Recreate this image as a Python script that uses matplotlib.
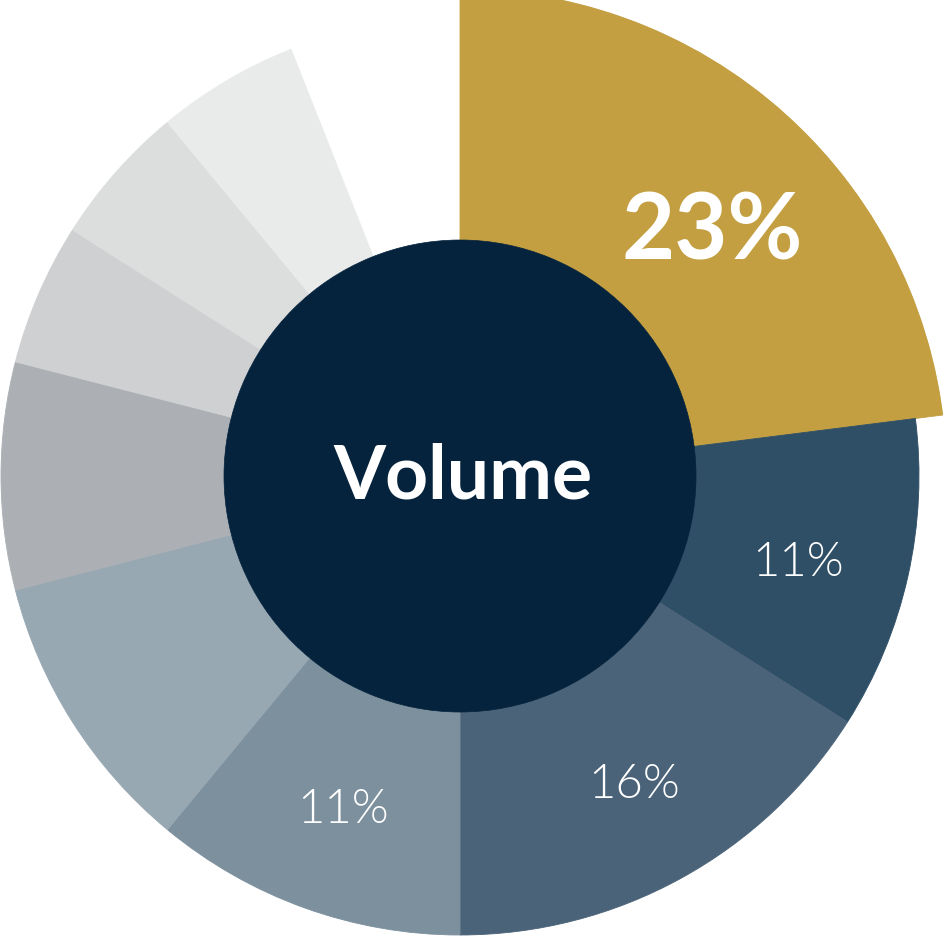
#!/usr/bin/env python3
# -*- coding: utf-8 -*-

import numpy as np
import matplotlib
matplotlib.use('Agg')
import matplotlib.pyplot as plt

# shares, clockwise from 12 o'clock; the last 6% is left blank
shares = [23, 11, 16, 11, 10, 8, 5, 5, 5, 6]
radii = [487, 459, 459, 459, 459, 459, 459, 459, 459, 0]
colors = ['#c39f41', '#2f4f66', '#4b6379', '#7d909e', '#97a8b3',
          '#acb0b4', '#cfd0d1', '#dcdddd', '#e9eaea', '#ffffff']
labels = ['23%', '11%', '16%', '11%', '', '', '', '', '', '']
hole_radius = 236
hole_label = 'Volume'

W, H = 944, 937
cx, cy = 460, 477          # centre, pixels from top-left
rmax = 487

fig = plt.figure(figsize=(W / 100, H / 100), dpi=100)
ax = fig.add_axes([(cx - rmax) / W, (H - cy - rmax) / H, 2 * rmax / W, 2 * rmax / H],
                  projection='polar')
ax.set_theta_zero_location('N')
ax.set_theta_direction(-1)
ax.set_ylim(0, rmax)
ax.axis('off')

widths = np.array(shares) / 100 * 2 * np.pi
starts = np.concatenate([[0], np.cumsum(widths)[:-1]])
ax.bar(starts, radii, width=widths, bottom=0, align='edge',
       color=colors, edgecolor=colors, linewidth=0.6)

# centre disc
ax.bar(0, hole_radius, width=2 * np.pi, bottom=0, color='#05233d',
       edgecolor='#05233d', linewidth=0.5)

# labels (pixel positions)
label_xy = {0: (712, 233), 1: (798, 563), 2: (634, 785), 3: (343, 810)}
for i, txt in enumerate(labels):
    if not txt:
        continue
    px, py = label_xy[i]
    size = 66 if i == 0 else 34
    weight = 'bold' if i == 0 else 300
    fig.text(px / W, 1 - py / H, txt, ha='center', va='center', color='white',
             fontsize=size, fontweight=weight, family=['Lato', 'DejaVu Sans'])

fig.text(463 / W, 1 - 477 / H, hole_label, ha='center', va='center', color='white',
         fontsize=54, fontweight='bold', family=['Lato', 'DejaVu Sans'])

fig.savefig('out.png', dpi=100, facecolor='white')
